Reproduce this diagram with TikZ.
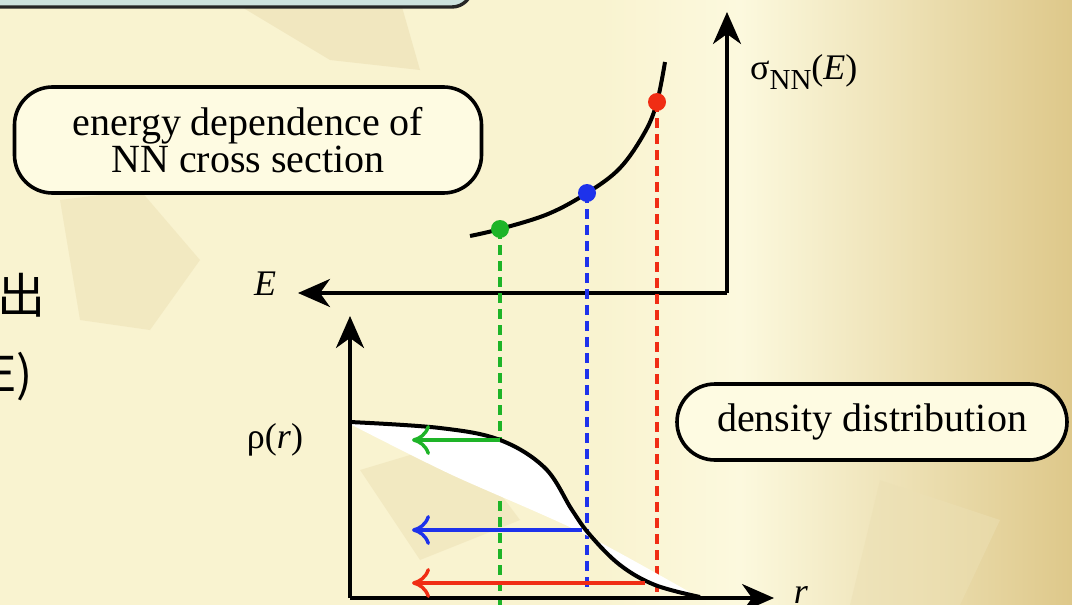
\documentclass[tikz,border=0pt]{standalone}
\usepackage{fontspec}
\setmainfont{Liberation Serif}
\newfontfamily\cjkfont{Noto Sans CJK SC}
\usetikzlibrary{arrows.meta,calc,positioning}
\definecolor{bgcream}{RGB}{249,243,208}
\definecolor{bglight}{RGB}{252,249,222}
\definecolor{bgtan}{RGB}{222,200,138}
\definecolor{gearshade}{RGB}{236,224,180}
\definecolor{boxcream}{RGB}{254,251,226}
\definecolor{topblue}{RGB}{205,226,222}
\definecolor{sigred}{RGB}{240,45,20}
\definecolor{siggreen}{RGB}{30,180,40}
\definecolor{sigblue}{RGB}{30,50,235}

\begin{document}
\begin{tikzpicture}[x=1pt, y=-1pt,
    infobox/.style={draw=black, line width=3.6pt, rounded corners=38pt, fill=boxcream, align=center, font=\fontsize{40}{37}\selectfont},
    axis/.style={line width=3.4pt, -{Stealth[length=32pt,width=28pt,inset=10pt]}},
    curve/.style={line width=4pt},
    guide/.style={line width=3.4pt, dash pattern=on 10pt off 6pt},
    probe/.style={line width=3.4pt, -{Computer Modern Rightarrow[length=18pt,width=30pt,line width=3.4pt]}},
    dot/.style={circle, inner sep=0pt, minimum size=18pt},
    lbl/.style={font=\fontsize{36}{40}\selectfont}
  ]
  \useasboundingbox (0,0) rectangle (1072,605);
  \clip (0,0) rectangle (1072,605);

  % background
  \fill[bgcream] (0,0) rectangle (600,605);
  \shade[left color=bgcream, right color=bglight] (600,0) rectangle (740,605);
  \shade[left color=bglight, right color=bgtan] (740,0) rectangle (1072,605);
  \fill[gearshade, opacity=0.6] (230,0) -- (400,0) -- (420,70) -- (330,60) -- cycle;
  \fill[gearshade, opacity=0.5] (60,200) -- (140,190) -- (200,260) -- (150,330) -- (80,320) -- cycle;
  \fill[gearshade, opacity=0.5] (360,470) -- (460,440) -- (520,520) -- (420,560) -- cycle;
  \fill[gearshade, opacity=0.5] (880,480) -- (1000,520) -- (960,605) -- (850,605) -- cycle;

  % slide remnants
  \draw[draw=black!85, line width=3.4pt, fill=topblue, rounded corners=20pt] (-30,-60) rectangle (472,7);
  \node[font=\cjkfont\fontsize{48}{48}\selectfont, anchor=east, inner sep=0pt] (kanji) at (46,295) {出};
  \node[font=\cjkfont\fontsize{48}{48}\selectfont, anchor=east, inner sep=0pt] (eparen) at (33,377) {E)};

  % boxes
  \node[infobox, minimum width=467pt, minimum height=106pt] (xsecbox) at (248,140) {energy dependence of\\NN cross section};
  \node[infobox, minimum width=390pt, minimum height=76pt] (densbox) at (872,422) {density distribution};

  % cross section plot
  \coordinate (Eorig) at (727,293);
  \coordinate (sigtop) at (727,12);
  \coordinate (Eend) at (298,293);
  \draw[axis] (Eorig) -- (sigtop);
  \draw[axis] (Eorig) -- (Eend);
  \node[lbl] (Elbl) at (265,284) {\textit{E}};
  \node[lbl, anchor=west, inner sep=0pt] (siglbl) at (750,72) {σ\raisebox{-10pt}{\fontsize{29}{29}\selectfont NN}(\textit{E})};
  \draw[curve] plot[smooth, tension=0.6] coordinates {(470,236) (500,229) (548,214) (587,193) (620,168) (645,132) (657,102) (665,62)};

  \node[dot, fill=siggreen] (gdot) at (500,229) {};
  \node[dot, fill=sigblue] (bdot) at (587,193) {};
  \node[dot, fill=sigred] (rdot) at (657,102) {};

  \coordinate (gfoot) at (500,606);
  \coordinate (bfoot) at (587,590);
  \coordinate (rfoot) at (657,598);
  \draw[guide, siggreen] (gdot.center) -- (gfoot);
  \draw[guide, sigblue] (bdot.center) -- (bfoot);
  \draw[guide, sigred] (rdot.center) -- (rfoot);

  % density plot
  \coordinate (rorig) at (350,598);
  \coordinate (rhotop) at (350,316);
  \coordinate (rend) at (774,598);
  \fill[white] plot[smooth, tension=0.6] coordinates {(350,422) (440,428) (500,440) (545,468) (572,510) (590,535) (620,565) (655,585) (700,597)}
    -- plot[smooth] coordinates {(700,598) (580,532) (450,474) (350,424)} -- cycle;
  \draw[curve] plot[smooth, tension=0.6] coordinates {(350,422) (440,428) (500,440) (545,468) (572,510) (590,535) (620,565) (655,585) (700,597)};
  \draw[axis] (rorig) -- (rhotop);
  \draw[axis] (rorig) -- (rend);
  \node[lbl] (rholbl) at (275,440) {ρ(\textit{r})};
  \node[lbl, anchor=base] (rlbl) at (801,603) {\textit{r}};

  \coordinate (gcross) at (500,440);
  \coordinate (bcross) at (582,530);
  \coordinate (rcross) at (645,583);
  \coordinate (garr) at (412,440);
  \coordinate (barr) at (412,530);
  \coordinate (rarr) at (412,583);
  \draw[probe, siggreen] (gcross) -- (garr);
  \draw[probe, sigblue] (bcross) -- (barr);
  \draw[probe, sigred] (rcross) -- (rarr);
\end{tikzpicture}
\end{document}
